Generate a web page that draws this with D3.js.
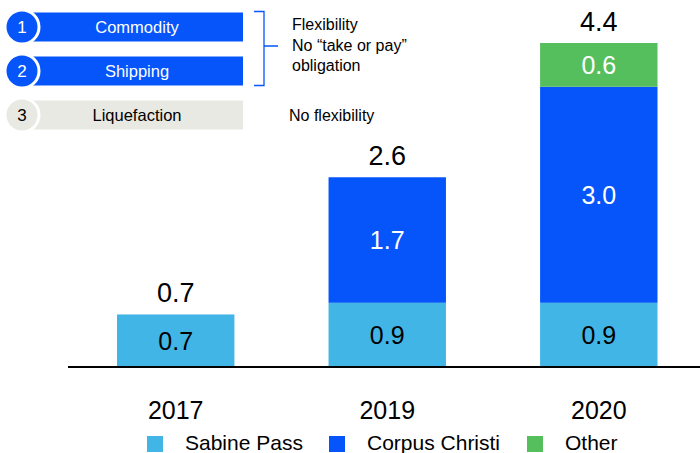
<!DOCTYPE html>
<html>
<head>
<meta charset="utf-8">
<script src="https://cdn.jsdelivr.net/npm/d3@7"></script>
<style>
  body { margin: 0; background: #fff; }
  svg { display: block; font-family: "Liberation Sans", Arial, sans-serif; }
</style>
</head>
<body>
<svg id="chart" width="700" height="453"></svg>
<script>
// data
const years = ["2017", "2019", "2020"];
const seriesNames = ["Sabine Pass", "Corpus Christi", "Other"];
const sabinePass = [0.72, 0.88, 0.88];
const corpusChristi = [0, 1.72, 2.96];
const other = [0, 0, 0.6];
const seriesColors = ["#41b6e6", "#0555fa", "#56bf5d"];
const labelColors = ["#000", "#fff", "#fff"];

const contractSteps = ["Commodity", "Shipping", "Liquefaction"];
const flexNotes = ["Flexibility", "No \u201ctake or pay\u201d", "obligation"];

const svg = d3.select("#chart");
const baseline = 367;

const rows = years.map((y, i) => ({ year: y, "Sabine Pass": sabinePass[i], "Corpus Christi": corpusChristi[i], "Other": other[i] }));
const stacked = d3.stack().keys(seriesNames)(rows);

const x = d3.scaleBand()
    .domain(years)
    .range([117, 657.5])
    .paddingInner(0.445)
    .paddingOuter(0);

const y = d3.scaleLinear()
    .domain([0, 4.44])
    .range([baseline, 43]);

// bars
stacked.forEach((layer, si) => {
    const g = svg.append("g");
    g.selectAll("rect")
        .data(layer.filter(d => d[1] - d[0] > 0))
        .enter().append("rect")
        .attr("x", d => x(d.data.year))
        .attr("y", d => y(d[1]))
        .attr("width", x.bandwidth())
        .attr("height", d => y(d[0]) - y(d[1]))
        .attr("fill", seriesColors[si]);
    g.selectAll("text")
        .data(layer.filter(d => d[1] - d[0] > 0))
        .enter().append("text")
        .attr("x", d => x(d.data.year) + x.bandwidth() / 2)
        .attr("y", d => (y(d[0]) + y(d[1])) / 2 + 9)
        .attr("text-anchor", "middle")
        .attr("font-size", 25)
        .attr("fill", labelColors[si])
        .text(d => (d[1] - d[0]).toFixed(1));
});

// totals
svg.append("g").selectAll("text")
    .data(rows)
    .enter().append("text")
    .attr("x", d => x(d.year) + x.bandwidth() / 2)
    .attr("y", d => y(d["Sabine Pass"] + d["Corpus Christi"] + d["Other"]) - 12)
    .attr("text-anchor", "middle")
    .attr("font-size", 27)
    .attr("fill", "#000")
    .text(d => (d["Sabine Pass"] + d["Corpus Christi"] + d["Other"]).toFixed(1));

// baseline + year labels
svg.append("line")
    .attr("x1", 68).attr("x2", 700)
    .attr("y1", baseline).attr("y2", baseline)
    .attr("stroke", "#000").attr("stroke-width", 2);

const xAxis = d3.axisBottom(x).tickSize(0).tickPadding(0);
const axisG = svg.append("g")
    .attr("transform", `translate(0,${baseline})`)
    .call(xAxis);
axisG.select(".domain").remove();
axisG.selectAll("text")
    .attr("font-family", "Liberation Sans, Arial, sans-serif")
    .attr("font-size", 25)
    .attr("fill", "#000")
    .attr("dy", 0)
    .attr("y", 52);

// legend
const legendX = [147, 329, 527];
const legend = svg.append("g");
seriesNames.forEach((name, i) => {
    legend.append("rect")
        .attr("x", legendX[i]).attr("y", 436)
        .attr("width", 16).attr("height", 16)
        .attr("fill", seriesColors[i]);
    legend.append("text")
        .attr("x", legendX[i] + 38).attr("y", 450)
        .attr("font-size", 21)
        .attr("fill", "#000")
        .text(name);
});

// contract steps panel
const rowY = [27, 71, 115];
const stepFill = ["#0555fa", "#0555fa", "#e9e9e4"];
const stepText = ["#fff", "#fff", "#000"];
const panel = svg.append("g");
contractSteps.forEach((s, i) => {
    panel.append("rect")
        .attr("x", 28).attr("y", rowY[i] - 14.5)
        .attr("width", 215).attr("height", 29)
        .attr("fill", stepFill[i]);
    panel.append("circle")
        .attr("cx", 22).attr("cy", rowY[i]).attr("r", 17)
        .attr("fill", stepFill[i])
        .attr("stroke", "#fff").attr("stroke-width", 3);
    panel.append("text")
        .attr("x", 22).attr("y", rowY[i] + 6)
        .attr("text-anchor", "middle")
        .attr("font-size", 17)
        .attr("fill", stepText[i])
        .text(i + 1);
    panel.append("text")
        .attr("x", 137).attr("y", rowY[i] + 6)
        .attr("text-anchor", "middle")
        .attr("font-size", 16.5)
        .attr("fill", stepText[i])
        .text(s);
});

// bracket
panel.append("path")
    .attr("d", "M254,11.5H264V85.5H254M264,46H278")
    .attr("fill", "none")
    .attr("stroke", "#0555fa")
    .attr("stroke-width", 1.3);

flexNotes.forEach((t, i) => {
    panel.append("text")
        .attr("x", 292).attr("y", 30 + i * 20.5)
        .attr("font-size", 16)
        .attr("fill", "#000")
        .text(t);
});
panel.append("text")
    .attr("x", 289).attr("y", 121)
    .attr("font-size", 16)
    .attr("fill", "#000")
    .text("No flexibility");
</script>
</body>
</html>
